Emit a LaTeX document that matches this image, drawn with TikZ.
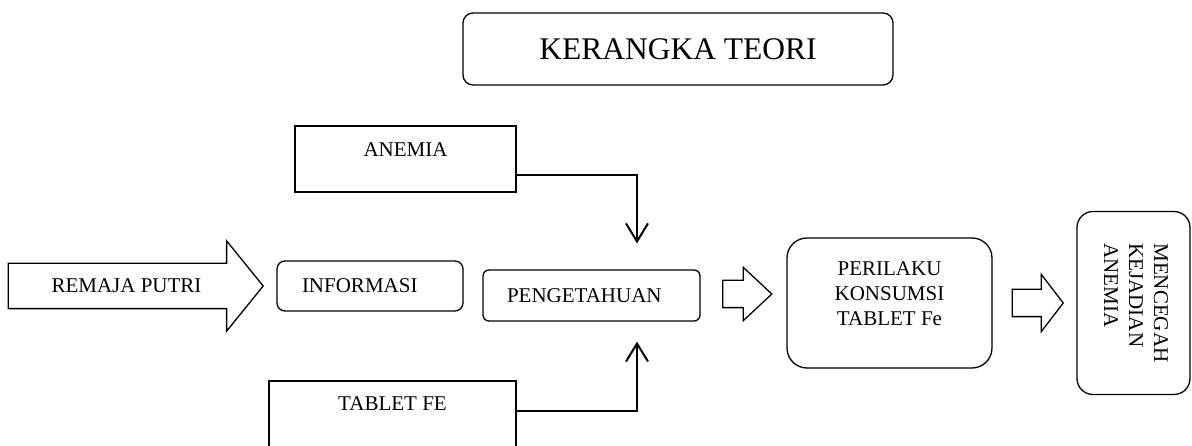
\documentclass[tikz,border=0pt]{standalone}
\usepackage{fontspec}
\setmainfont{Liberation Serif}
\usetikzlibrary{positioning,shapes.arrows,arrows.meta}

\begin{document}
\begin{tikzpicture}[x=1pt,y=1pt,on grid,
		kotak/.style={draw,line width=1.3pt,inner sep=0pt,font=\fontsize{21}{25}\selectfont},
		kotakbulat/.style={kotak,rounded corners=8pt},
		panahbesar/.style={single arrow,draw,line width=1.3pt,inner xsep=0pt,minimum width=1pt},
		konektor/.style={-{Straight Barb[length=18pt,width=22pt]},line width=2pt}]
	\useasboundingbox (0,0) rectangle (1192,-446);

	\node[kotakbulat,minimum width=186pt,minimum height=50pt,text width=136pt,align=left,inner xsep=25pt]	(informasi)	at (370,-286)	{INFORMASI};
	\node[kotakbulat,rounded corners=6pt,minimum width=217pt,minimum height=51pt,text width=169pt,align=left,inner xsep=24pt]	(pengetahuan)	[below right=9.5pt and 221.5pt of informasi]	{PENGETAHUAN};
	\node[kotak,minimum width=221pt,minimum height=66pt,text height=14pt,text depth=18pt]	(anemia)	[above right=127pt and 35.5pt of informasi]	{ANEMIA};
	\node[kotak,minimum width=247pt,minimum height=66pt,text height=14pt,text depth=22pt]	(tablet)	[below right=128pt and 22.5pt of informasi]	{TABLET FE};
	\node[panahbesar,font=\fontsize{21}{25}\selectfont,text height=14pt,text depth=0pt,inner ysep=15pt,
		single arrow head extend=22.5pt,single arrow tip angle=102,minimum height=255pt]	(remaja)	[left=243.5pt of informasi]	{REMAJA PUTRI};

	\node[kotakbulat,rounded corners=10pt,minimum width=430pt,minimum height=72pt,font=\fontsize{31.5}{38}\selectfont]	(judul)	[above right=246.5pt and 86.5pt of pengetahuan]	{KERANGKA TEORI};

	\node[panahbesar,inner ysep=13pt,single arrow head extend=13pt,single arrow tip angle=86,minimum height=49pt]	(panah1)	[above right=1.5pt and 148.5pt of pengetahuan]	{};
	\node[kotakbulat,rounded corners=20pt,minimum width=205pt,minimum height=130pt,align=center,text height=64pt,text depth=18pt]	(perilaku)	[below right=7.5pt and 298pt of pengetahuan]	{PERILAKU\\KONSUMSI\\TABLET Fe};
	\node[panahbesar,inner ysep=13pt,single arrow head extend=15pt,single arrow tip angle=105,minimum height=51pt]	(panah2)	[right=143pt of perilaku]	{};
	\node[kotakbulat,rounded corners=16pt,rotate=-90,minimum width=183pt,minimum height=113pt,align=left,text height=64pt,text depth=5pt]	(mencegah)	[right=244pt of perilaku]	{MENCEGAH\\KEJADIAN\\ANEMIA};

	% panah dari anemia dan tablet fe ke pengetahuan
	\draw[konektor,shorten >=26pt]	([yshift=-16pt]anemia.east)	-|	([xshift=45.5pt]pengetahuan.north);
	\draw[konektor,shorten >=20pt]	([yshift=3pt]tablet.east)	-|	([xshift=45.5pt]pengetahuan.south);
\end{tikzpicture}
\end{document}
